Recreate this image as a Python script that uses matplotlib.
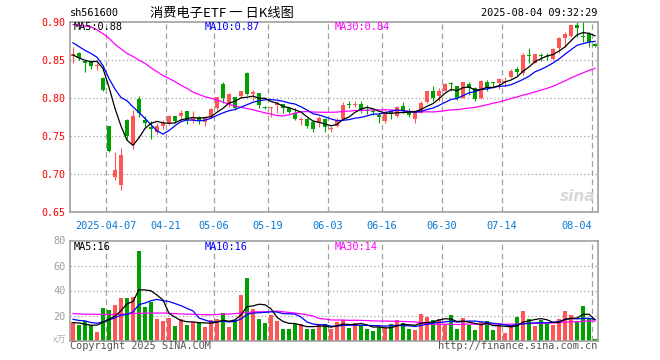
import matplotlib
matplotlib.use("Agg")
import matplotlib.pyplot as plt
import numpy as np

# ---------------- data ----------------
opens = [0.855, 0.859, 0.848, 0.847, 0.842, 0.826, 0.763, 0.695, 0.685, 0.771,
         0.737, 0.798, 0.771, 0.761, 0.755, 0.763, 0.766, 0.776, 0.776, 0.782,
         0.770, 0.774, 0.768, 0.774, 0.786, 0.818, 0.792, 0.801, 0.802, 0.832,
         0.804, 0.806, 0.788, 0.786, 0.790, 0.791, 0.786, 0.779, 0.771, 0.772,
         0.768, 0.766, 0.772, 0.759, 0.763, 0.772, 0.791, 0.790, 0.792, 0.783,
         0.782, 0.777, 0.769, 0.782, 0.776, 0.789, 0.782, 0.772, 0.780, 0.794,
         0.808, 0.802, 0.809, 0.819, 0.815, 0.800, 0.818, 0.813, 0.800, 0.820,
         0.820, 0.819, 0.820, 0.827, 0.837, 0.832, 0.855, 0.846, 0.855, 0.855,
         0.851, 0.865, 0.878, 0.881, 0.895, 0.880, 0.884, 0.871]
highs = [0.867, 0.860, 0.849, 0.849, 0.846, 0.827, 0.763, 0.7285, 0.733, 0.772,
         0.784, 0.802, 0.776, 0.7685, 0.766, 0.771, 0.777, 0.776, 0.784, 0.782,
         0.782, 0.776, 0.774, 0.786, 0.801, 0.820, 0.806, 0.801, 0.809, 0.833,
         0.810, 0.806, 0.789, 0.788, 0.795, 0.791, 0.788, 0.786, 0.775, 0.773,
         0.771, 0.776, 0.773, 0.763, 0.773, 0.794, 0.795, 0.795, 0.795, 0.790,
         0.785, 0.779, 0.784, 0.783, 0.789, 0.794, 0.786, 0.782, 0.795, 0.808,
         0.815, 0.813, 0.819, 0.820, 0.815, 0.821, 0.821, 0.814, 0.823, 0.823,
         0.821, 0.826, 0.827, 0.838, 0.840, 0.858, 0.865, 0.857, 0.859, 0.858,
         0.865, 0.879, 0.886, 0.896, 0.900, 0.901, 0.886, 0.872]
lows = [0.846, 0.849, 0.833, 0.838, 0.836, 0.809, 0.728, 0.692, 0.6785, 0.745,
        0.732, 0.774, 0.761, 0.745, 0.752, 0.758, 0.764, 0.767, 0.771, 0.765,
        0.767, 0.765, 0.763, 0.773, 0.784, 0.793, 0.788, 0.783, 0.799, 0.803,
        0.797, 0.786, 0.785, 0.774, 0.780, 0.780, 0.779, 0.771, 0.764, 0.760,
        0.755, 0.761, 0.755, 0.754, 0.761, 0.771, 0.786, 0.787, 0.779, 0.778,
        0.777, 0.767, 0.767, 0.772, 0.774, 0.779, 0.775, 0.767, 0.779, 0.793,
        0.795, 0.796, 0.808, 0.808, 0.797, 0.799, 0.803, 0.796, 0.798, 0.809,
        0.813, 0.811, 0.815, 0.826, 0.829, 0.829, 0.845, 0.845, 0.848, 0.849,
        0.849, 0.858, 0.867, 0.879, 0.880, 0.873, 0.867, 0.867]
closes = [0.857, 0.852, 0.845, 0.841, 0.843, 0.810, 0.729, 0.705, 0.725, 0.750,
          0.776, 0.779, 0.766, 0.759, 0.763, 0.766, 0.776, 0.769, 0.779, 0.771,
          0.774, 0.770, 0.774, 0.785, 0.800, 0.800, 0.804, 0.786, 0.808, 0.804,
          0.807, 0.790, 0.786, 0.787, 0.793, 0.786, 0.781, 0.772, 0.772, 0.762,
          0.758, 0.773, 0.761, 0.760, 0.771, 0.790, 0.790, 0.791, 0.782, 0.782,
          0.781, 0.774, 0.779, 0.779, 0.787, 0.782, 0.777, 0.782, 0.793, 0.808,
          0.800, 0.809, 0.818, 0.818, 0.800, 0.820, 0.813, 0.798, 0.822, 0.814,
          0.819, 0.825, 0.822, 0.835, 0.834, 0.856, 0.854, 0.857, 0.854, 0.853,
          0.864, 0.878, 0.884, 0.895, 0.891, 0.879, 0.873, 0.868]
volumes = [15.0, 12.2, 15.5, 12.2, 6.6, 25.9, 24.3, 28.3, 34.2, 34.2,
           35.0, 71.7, 27.0, 31.0, 17.0, 15.7, 17.9, 11.7, 17.6, 12.2,
           14.9, 14.9, 10.9, 16.3, 17.0, 21.9, 10.9, 16.3, 36.4, 49.7,
           25.1, 17.6, 14.1, 20.3, 15.5, 9.0, 9.6, 13.6, 13.6, 9.6,
           9.0, 12.2, 13.6, 9.0, 14.9, 16.3, 10.1, 14.1, 12.8, 9.0,
           7.7, 10.9, 10.1, 13.3, 16.3, 14.4, 9.0, 8.2, 21.4, 18.9,
           16.3, 17.1, 13.3, 20.3, 9.0, 18.1, 12.8, 8.2, 14.9, 15.5,
           8.2, 12.2, 6.1, 12.8, 18.9, 23.5, 17.1, 11.7, 16.3, 14.4,
           12.8, 17.6, 23.5, 20.3, 15.5, 27.5, 18.4, 1.5]

# moving-average values before enough in-window history exists
ma5_head = [0.856, 0.852, 0.849, 0.847]
ma10_head = [0.872, 0.867, 0.862, 0.858, 0.853, 0.842, 0.825, 0.811, 0.800]
ma30_head = [0.896, 0.895, 0.894, 0.893, 0.889, 0.884, 0.878, 0.870, 0.864, 0.858,
             0.854, 0.849, 0.845, 0.839, 0.834, 0.829, 0.825, 0.821, 0.816, 0.812,
             0.807, 0.804, 0.801, 0.799, 0.797, 0.794, 0.791, 0.789, 0.787]
vma5_head = [14.3, 14.0, 13.0, 12.2]
vma10_head = [17.0, 16.0, 15.7, 14.4, 13.8, 14.9, 16.5, 18.1, 20.3]
vma30_head = [21.6, 21.3, 21.0, 21.0, 21.0, 20.8, 20.8, 20.8, 21.0, 21.2,
              21.5, 21.8, 21.8, 22.0, 22.0, 22.0, 21.8, 21.5, 21.3, 21.0,
              21.0, 20.8, 20.6, 20.6, 20.8, 21.0, 21.2, 21.5, 22.0]

price_ma_labels = ["MA5:0.88", "MA10:0.87", "MA30:0.84"]
vol_ma_labels = ["MA5:16", "MA10:16", "MA30:14"]

tick_labels = ["2025-04-07", "04-21", "05-06", "05-19", "06-03", "06-16",
               "06-30", "07-14", "08-04"]
tick_index = [6, 16, 24, 33, 43, 52, 62, 72, 87]
price_ticks = [0.65, 0.70, 0.75, 0.80, 0.85, 0.90]
vol_ticks = [20, 40, 60, 80]

symbol = "sh561600"
title = "消费电子ETF 一 日K线图"
timestamp = "2025-08-04 09:32:29"

# ---------------- helpers ----------------
def moving_avg(vals, n, head):
    out = []
    for i in range(len(vals)):
        if i < n - 1:
            out.append(head[i])
        else:
            out.append(float(np.mean(vals[i - n + 1:i + 1])))
    return np.array(out)

W, H = 660, 360
fig = plt.figure(figsize=(W / 100, H / 100), dpi=100)
MONO = "DejaVu Sans Mono"
CJK = ["Noto Sans CJK SC", "DejaVu Sans"]
RED = "#ff5555"
GREEN = "#00a000"
GRID = "#a0a0a0"
SPINE = "#a0a0a0"
MA_COLORS = ["#000000", "#0000ff", "#ff00ff"]
LABEL_X = [74, 205, 335]

def px_axes(l, t, r, b):
    return fig.add_axes([l / W, 1 - b / H, (r - l) / W, (b - t) / H])

def ftext(x, y, s, **kw):
    fig.text(x / W, 1 - y / H, s, **kw)

n = len(closes)
x = np.arange(n)
o = np.array(opens); c = np.array(closes)
hi = np.array(highs); lo = np.array(lows)
up = c >= o
colors = [RED if u else GREEN for u in up]

# ---------------- price axes ----------------
ax = px_axes(70, 21.5, 598, 211.5)
ax.set_xlim(-0.5, n - 0.5)
ax.set_ylim(0.65, 0.90)
for s in ax.spines.values():
    s.set_color(SPINE); s.set_linewidth(1.2)
for yv in price_ticks[1:-1]:
    ax.axhline(yv, color=GRID, lw=0.9, ls=(0, (1, 2)), zorder=0)
for ti in tick_index:
    ax.axvline(ti - 0.5, color=GRID, lw=0.9, ls=(0, (4.5, 2.8)), zorder=0)

ax.vlines(x, lo, hi, colors=colors, lw=0.8, zorder=2)
bottoms = np.minimum(o, c)
heights = np.maximum(np.abs(c - o), 0.0013)
ax.bar(x, heights, bottom=bottoms, width=0.75, color=colors, lw=0, zorder=3)

ma5 = moving_avg(closes, 5, ma5_head)
ma10 = moving_avg(closes, 10, ma10_head)
ma30 = moving_avg(closes, 30, ma30_head)
ax.plot(x, ma30, color=MA_COLORS[2], lw=0.9, zorder=4)
ax.plot(x, ma10, color=MA_COLORS[1], lw=0.9, zorder=4)
ax.plot(x, ma5, color=MA_COLORS[0], lw=0.9, zorder=4)

ax.set_yticks(price_ticks)
ax.set_yticklabels([f"{v:.2f}" for v in price_ticks], fontfamily=MONO)
ax.tick_params(axis="y", length=0, pad=3, labelcolor="#ff0000", labelsize=7.2)
ax.set_xticks([ti - 0.5 for ti in tick_index])
ax.set_xticklabels(tick_labels, fontfamily=MONO)
ax.tick_params(axis="x", length=0, pad=7, labelcolor="#0a78d2", labelsize=7.4)
ax.get_xticklabels()[-1].set_ha("right")

ax.text(0.995, 0.04, "sina", transform=ax.transAxes, ha="right", va="bottom",
        fontsize=11, fontweight="bold", style="italic", color="#d8d8d8", zorder=1)

# ---------------- volume axes ----------------
av = px_axes(70, 240.5, 598, 340.5)
av.set_xlim(-0.5, n - 0.5)
av.set_ylim(0, 80)
for s in av.spines.values():
    s.set_color(SPINE); s.set_linewidth(1.2)
for yv in vol_ticks[:-1]:
    av.axhline(yv, color=GRID, lw=0.9, ls=(0, (1, 2)), zorder=0)
for ti in tick_index:
    av.axvline(ti - 0.5, color=GRID, lw=0.9, ls=(0, (4.5, 2.8)), zorder=0)
av.bar(x, volumes, width=0.83, color=colors, lw=0, zorder=2)
vma5 = moving_avg(volumes, 5, vma5_head)
vma10 = moving_avg(volumes, 10, vma10_head)
vma30 = moving_avg(volumes, 30, vma30_head)
av.plot(x, vma30, color=MA_COLORS[2], lw=0.9, zorder=4)
av.plot(x, vma10, color=MA_COLORS[1], lw=0.9, zorder=4)
av.plot(x, vma5, color=MA_COLORS[0], lw=0.9, zorder=4)
av.set_yticks(vol_ticks)
av.set_yticklabels([str(v) for v in vol_ticks], fontfamily=MONO)
av.tick_params(axis="y", length=0, pad=3, labelcolor="#a0a0a0", labelsize=7.4)
av.set_xticks([])

# ---------------- texts ----------------
ftext(70, 13, symbol, fontfamily=MONO, fontsize=7.4, va="center", ha="left")
ftext(150, 13, title, fontfamily=CJK, fontsize=9.5, va="center", ha="left")
ftext(597, 13, timestamp, fontfamily=MONO, fontsize=7.4, va="center", ha="right")

for lx, lab, col in zip(LABEL_X, price_ma_labels, MA_COLORS):
    ftext(lx, 26.5, lab, fontfamily=MONO, fontsize=7.4, va="center", color=col)
for lx, lab, col in zip(LABEL_X, vol_ma_labels, MA_COLORS):
    ftext(lx, 247, lab, fontfamily=MONO, fontsize=7.4, va="center", color=col)

ftext(66, 340, "x万", fontfamily=CJK, fontsize=6.5,
      va="center", ha="right", color="#b0b0b0", style="italic")
ftext(70, 346, "Copyright 2025 SINA.COM", fontfamily=MONO, fontsize=7.4, va="center",
      ha="left", color="#555555")
ftext(597, 346, "http://finance.sina.com.cn", fontfamily=MONO, fontsize=7.4, va="center",
      ha="right", color="#555555")

fig.savefig("out.png", dpi=100)
